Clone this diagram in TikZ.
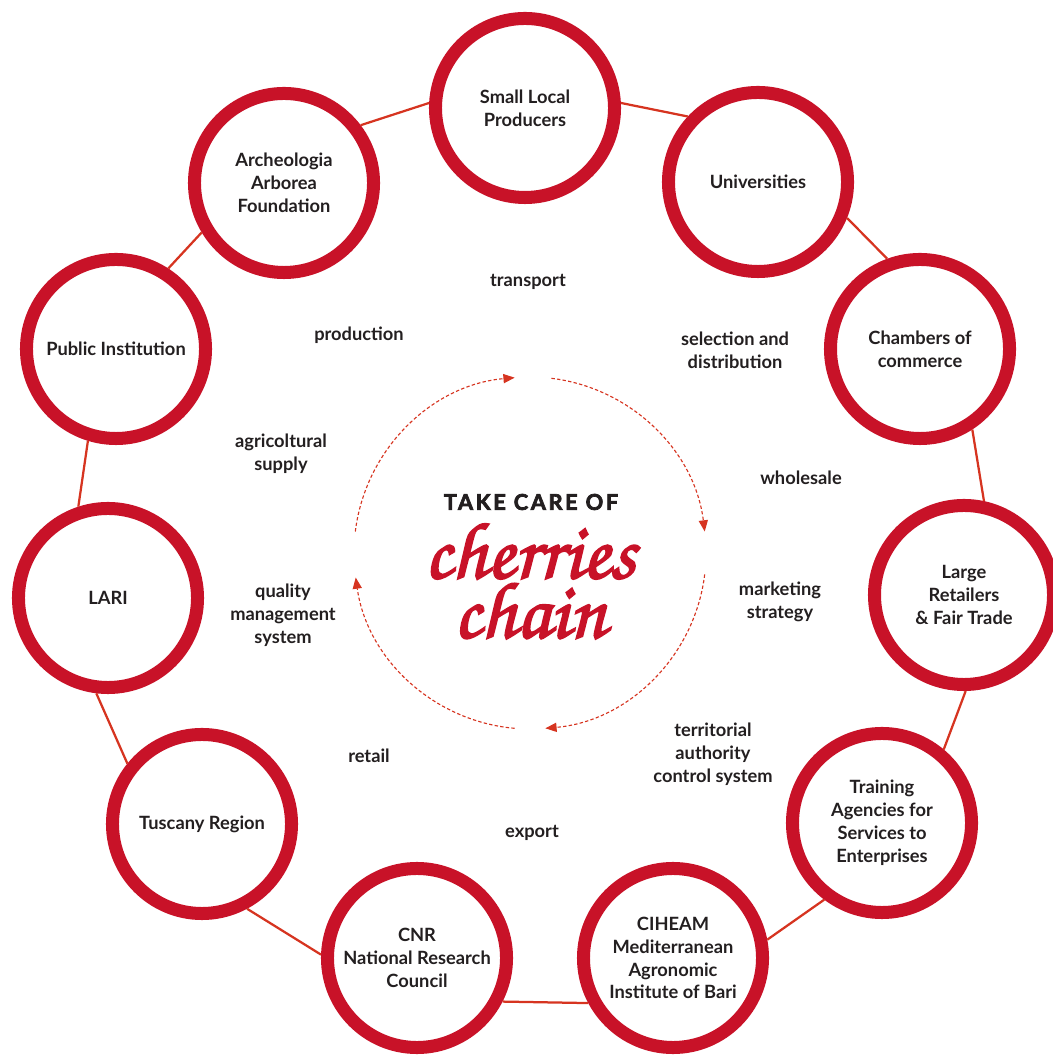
\documentclass[tikz,border=0pt]{standalone}
\usepackage[T1]{fontenc}
\usepackage{fontspec}
\setmainfont{Lato}
\usepackage{xcolor}
\usepackage{tikz}
\usetikzlibrary{positioning,arrows.meta,calc}
\definecolor{ringcolor}{RGB}{200, 18, 40}
\definecolor{linkcolor}{RGB}{214, 52, 32}
\definecolor{textcolor}{RGB}{35, 31, 32}
\newcommand{\scriptface}{\fontencoding{T1}\fontfamily{pzc}\fontseries{mb}\fontshape{it}\selectfont}
\newcommand{\heavy}[2][1.3]{\special{pdf:literal direct 2 Tr #1 w}#2\special{pdf:literal direct 0 Tr}}
\tikzset{
    actor/.style={circle, draw=ringcolor, line width=0.325cm, fill=white, minimum size=4.475cm, inner sep=0pt, align=center, text=textcolor, font=\bfseries\fontsize{13}{16.3}\selectfont},
    step label/.style={align=center, text=textcolor, inner sep=1pt, font=\bfseries\fontsize{13}{16.3}\selectfont},
    chain link/.style={linkcolor, line width=1.6pt},
    cycle arrow/.style={-{Triangle[length=8pt,width=6.5pt]}, linkcolor, line width=0.8pt, dash pattern=on 2.4pt off 1.6pt},
    title text/.style={text=textcolor, inner sep=0pt, font=\fontsize{15.5}{18}\selectfont\bfseries\addfontfeatures{LetterSpace=12}},
    script text/.style={text=ringcolor, inner sep=0pt, align=center, font=\fontsize{57}{38}\scriptface}
}
\begin{document}
\begin{tikzpicture}[x=0.025cm, y=0.025cm]
\useasboundingbox (0,0) rectangle (1052,1057);
\node[actor] (slp) at (525,949) {Small Local\\Producers};
\node[actor] (univ) at (758,875) {Universities};
\node[actor] (chamb) at (920,708) {Chambers of\\commerce};
\node[actor] (retail) at (964,462) {Large\\Retailers\\\& Fair Trade};
\node[actor] (train) at (882,234) {Training\\Agencies for\\Services to\\Enterprises};
\node[actor] (ciheam) at (673,99) {CIHEAM\\Mediterranean\\Agronomic\\Institute of Bari};
\node[actor] (cnr) at (417,99) {CNR\\National Research\\Council};
\node[actor] (tusc) at (202,233) {Tuscany Region};
\node[actor] (lari) at (108,459) {LARI};
\node[actor] (pub) at (116,708) {Public Institution};
\node[actor] (arch) at (284,874) {Archeologia\\Arborea\\Foundation};

\draw[chain link] (arch.37) -- (slp.177);
\draw[chain link] (slp.3) -- (univ.137);
\draw[chain link] (univ.-22) -- (chamb.110);
\draw[chain link] (chamb.-57) -- (retail.78);
\draw[chain link] (retail.-89) -- (train.50);
\draw[chain link] (train.233) -- (ciheam.11);
\draw[chain link] (ciheam.208) -- (cnr.-27);
\draw[chain link] (cnr.178) -- (tusc.-62);
\draw[chain link] (tusc.141) -- (lari.263);
\draw[chain link] (lari.108) -- (pub.253);
\draw[chain link] (pub.57) -- (arch.211);

\node[step label] (transport) at (528,775) {transport};
\node[step label] (production) at (359,722) {production};
\node[step label] (supply) at (281,603) {agricoltural\\supply};
\node[step label] (selection) at (735,707) {selection and\\distribution};
\node[step label] (wholesale) at (801,579) {wholesale};
\node[step label] (quality) at (283,442) {quality\\management\\system};
\node[step label] (marketing) at (780,455) {marketing\\strategy};
\node[step label] (control) at (713,303) {territorial\\authority\\control system};
\node[step label] (retailing) at (369,301) {retail};
\node[step label] (export) at (532,224) {export};

\coordinate (hub) at (530,504);
\draw[cycle arrow] ($(hub)+(173:176)$) arc[start angle=173, end angle=95, radius=176];
\draw[cycle arrow] ($(hub)+(83:176)$) arc[start angle=83, end angle=7, radius=176];
\draw[cycle arrow] ($(hub)+(-7:176)$) arc[start angle=-7, end angle=-85, radius=176];
\draw[cycle arrow] ($(hub)+(-95:176)$) arc[start angle=-95, end angle=-172, radius=176];

\node[title text] (takecare) at (531,555) {\heavy[0.5]{TAKE CARE OF}};
\node[script text] (cherries) at (530,477) {\heavy{cherries}\\\heavy{chain}};
\end{tikzpicture}
\end{document}
